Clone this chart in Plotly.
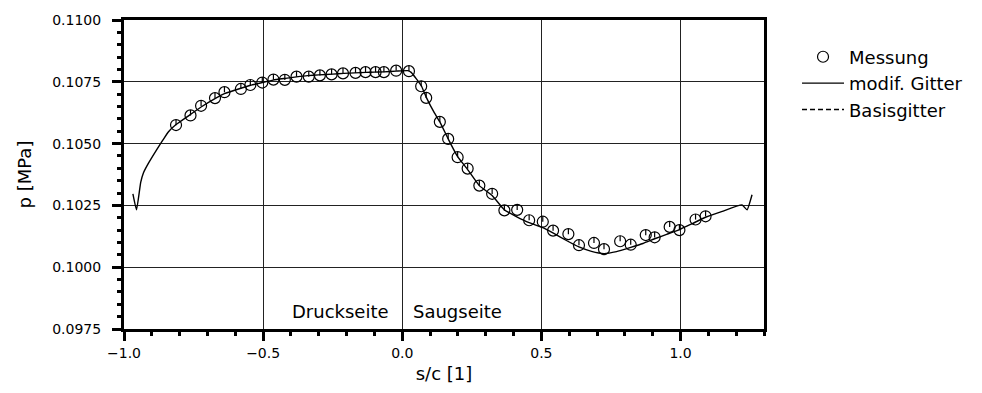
import plotly.graph_objects as go

# Measured static pressure along the blade surface
# (s/c < 0: pressure side, s/c > 0: suction side)
mess_s = [-0.813, -0.761, -0.723, -0.673, -0.639, -0.580, -0.546, -0.503, -0.463, -0.422,
          -0.380, -0.336, -0.296, -0.254, -0.213, -0.168, -0.132, -0.096, -0.066, -0.022,
          0.024, 0.068, 0.086, 0.135, 0.165, 0.199, 0.235, 0.277, 0.323, 0.367,
          0.413, 0.456, 0.505, 0.542, 0.597, 0.635, 0.689, 0.725, 0.783, 0.821,
          0.875, 0.907, 0.961, 0.996, 1.054, 1.090]
mess_p = [0.10575, 0.10614, 0.10653, 0.10684, 0.10708, 0.10721, 0.10737, 0.10747, 0.10759, 0.10758,
          0.10771, 0.10771, 0.10776, 0.10780, 0.10784, 0.10786, 0.10789, 0.10789, 0.10789, 0.10795,
          0.10793, 0.10732, 0.10685, 0.10588, 0.10519, 0.10445, 0.10399, 0.10330, 0.10297, 0.10230,
          0.10232, 0.10190, 0.10184, 0.10148, 0.10134, 0.10089, 0.10098, 0.10073, 0.10105, 0.10091,
          0.10130, 0.10121, 0.10163, 0.10150, 0.10193, 0.10206]

# Computed distribution on the modified grid
gitter_s = [-0.968, -0.955, -0.940, -0.930, -0.912, -0.884, -0.860, -0.840, -0.813, -0.761,
            -0.723, -0.673, -0.639, -0.580, -0.545, -0.503, -0.464, -0.420, -0.380, -0.340,
            -0.300, -0.250, -0.210, -0.170, -0.130, -0.100, -0.066, -0.022, 0.020, 0.032,
            0.068, 0.086, 0.115, 0.135, 0.165, 0.199, 0.235, 0.277, 0.323, 0.367,
            0.410, 0.456, 0.505, 0.543, 0.590, 0.635, 0.680, 0.725, 0.770, 0.821,
            0.865, 0.907, 0.950, 0.996, 1.040, 1.090, 1.150, 1.221, 1.239, 1.257]
gitter_p = [0.10297, 0.10232, 0.10343, 0.10382, 0.10421, 0.10473, 0.10515, 0.10548, 0.10577, 0.10618,
            0.10648, 0.10682, 0.10702, 0.10724, 0.10736, 0.10747, 0.10757, 0.10764, 0.10770, 0.10775,
            0.10778, 0.10781, 0.10784, 0.10786, 0.10788, 0.10789, 0.10790, 0.10793, 0.10795, 0.10788,
            0.10735, 0.10688, 0.10625, 0.10588, 0.10519, 0.10447, 0.10395, 0.10330, 0.10290, 0.10232,
            0.10205, 0.10180, 0.10160, 0.10138, 0.10108, 0.10082, 0.10064, 0.10055, 0.10063, 0.10080,
            0.10096, 0.10115, 0.10133, 0.10152, 0.10175, 0.10202, 0.10226, 0.10252, 0.10232, 0.10293]

# Computed distribution on the base grid (legend entry only, no points drawn)
basis_s = [None]
basis_p = [None]

x_ticks = [-1.0, -0.5, 0.0, 0.5, 1.0]
y_ticks = [0.0975, 0.1000, 0.1025, 0.1050, 0.1075, 0.1100]

W, H = 982, 393
MARGIN = dict(l=124, r=218, t=15, b=58)
X_RANGE = [-1.0, 1.3]
Y_RANGE = [0.0975, 0.1100]

FONT = "DejaVu Sans"
MARKER_SIZE = 11

# Small vertical stroke in the upper half of each measurement circle
plot_h = H - MARGIN["t"] - MARGIN["b"]
px_per_unit = plot_h / (Y_RANGE[1] - Y_RANGE[0])
stroke_offset = (MARKER_SIZE / 4) / px_per_unit
stroke_p = [p + stroke_offset for p in mess_p]

fig = go.Figure()

fig.add_trace(go.Scatter(
    x=gitter_s, y=gitter_p, mode="lines", name="modif. Gitter",
    line=dict(color="black", width=1.4, shape="spline", smoothing=0.4),
    legendgroup="b", legendrank=2,
))
fig.add_trace(go.Scatter(
    x=basis_s, y=basis_p, mode="lines", name="Basisgitter",
    line=dict(color="black", width=1.4, dash="5px,3px"),
    legendgroup="c", legendrank=3,
))
fig.add_trace(go.Scatter(
    x=mess_s, y=mess_p, mode="markers", name="Messung",
    marker=dict(symbol="circle-open", size=MARKER_SIZE, color="black",
                line=dict(width=1.2, color="black")),
    legendgroup="a", legendrank=1,
))
fig.add_trace(go.Scatter(
    x=mess_s, y=stroke_p, mode="markers", showlegend=False, hoverinfo="skip",
    marker=dict(symbol="line-ns", size=MARKER_SIZE * 0.36, color="black",
                line=dict(width=1.2, color="black")),
))

axis_common = dict(
    showline=True, linecolor="black", linewidth=3, mirror=True,
    showgrid=True, gridcolor="#222222", gridwidth=1, zeroline=False,
    ticks="outside", ticklen=9, tickwidth=2.5, tickcolor="black",
    tickfont=dict(family=FONT, size=14, color="black"),
)

fig.update_xaxes(
    range=X_RANGE, tickvals=x_ticks, tickformat=".1f",
    minor=dict(dtick=0.1, tick0=-1.0, ticks="outside", ticklen=4, tickwidth=2.5,
               tickcolor="black", showgrid=False),
    title=dict(text="s/c [1]", font=dict(family=FONT, size=18, color="black"), standoff=8),
    **axis_common,
)
fig.update_yaxes(
    range=Y_RANGE, tickvals=y_ticks, tickformat=".4f", ticklabelstandoff=8,
    minor=dict(dtick=0.0005, tick0=0.0975, ticks="outside", ticklen=4, tickwidth=2.5,
               tickcolor="black", showgrid=False),
    title=dict(text="p [MPa]", font=dict(family=FONT, size=18, color="black"), standoff=16),
    **axis_common,
)

fig.add_annotation(x=0.0, y=0.09822, xref="x", yref="y", text="Druckseite",
                   showarrow=False, xanchor="right", xshift=-11,
                   font=dict(family=FONT, size=18, color="black"))
fig.add_annotation(x=0.0, y=0.09822, xref="x", yref="y", text="Saugseite",
                   showarrow=False, xanchor="left", xshift=9,
                   font=dict(family=FONT, size=18, color="black"))

fig.update_layout(
    width=W, height=H, margin=MARGIN,
    plot_bgcolor="white", paper_bgcolor="white",
    legend=dict(x=1.0516, xanchor="left", y=0.94, yanchor="top",
                font=dict(family=FONT, size=18, color="black"),
                itemwidth=42, tracegroupgap=0, bgcolor="rgba(0,0,0,0)"),
)

fig.write_html("out.html")
